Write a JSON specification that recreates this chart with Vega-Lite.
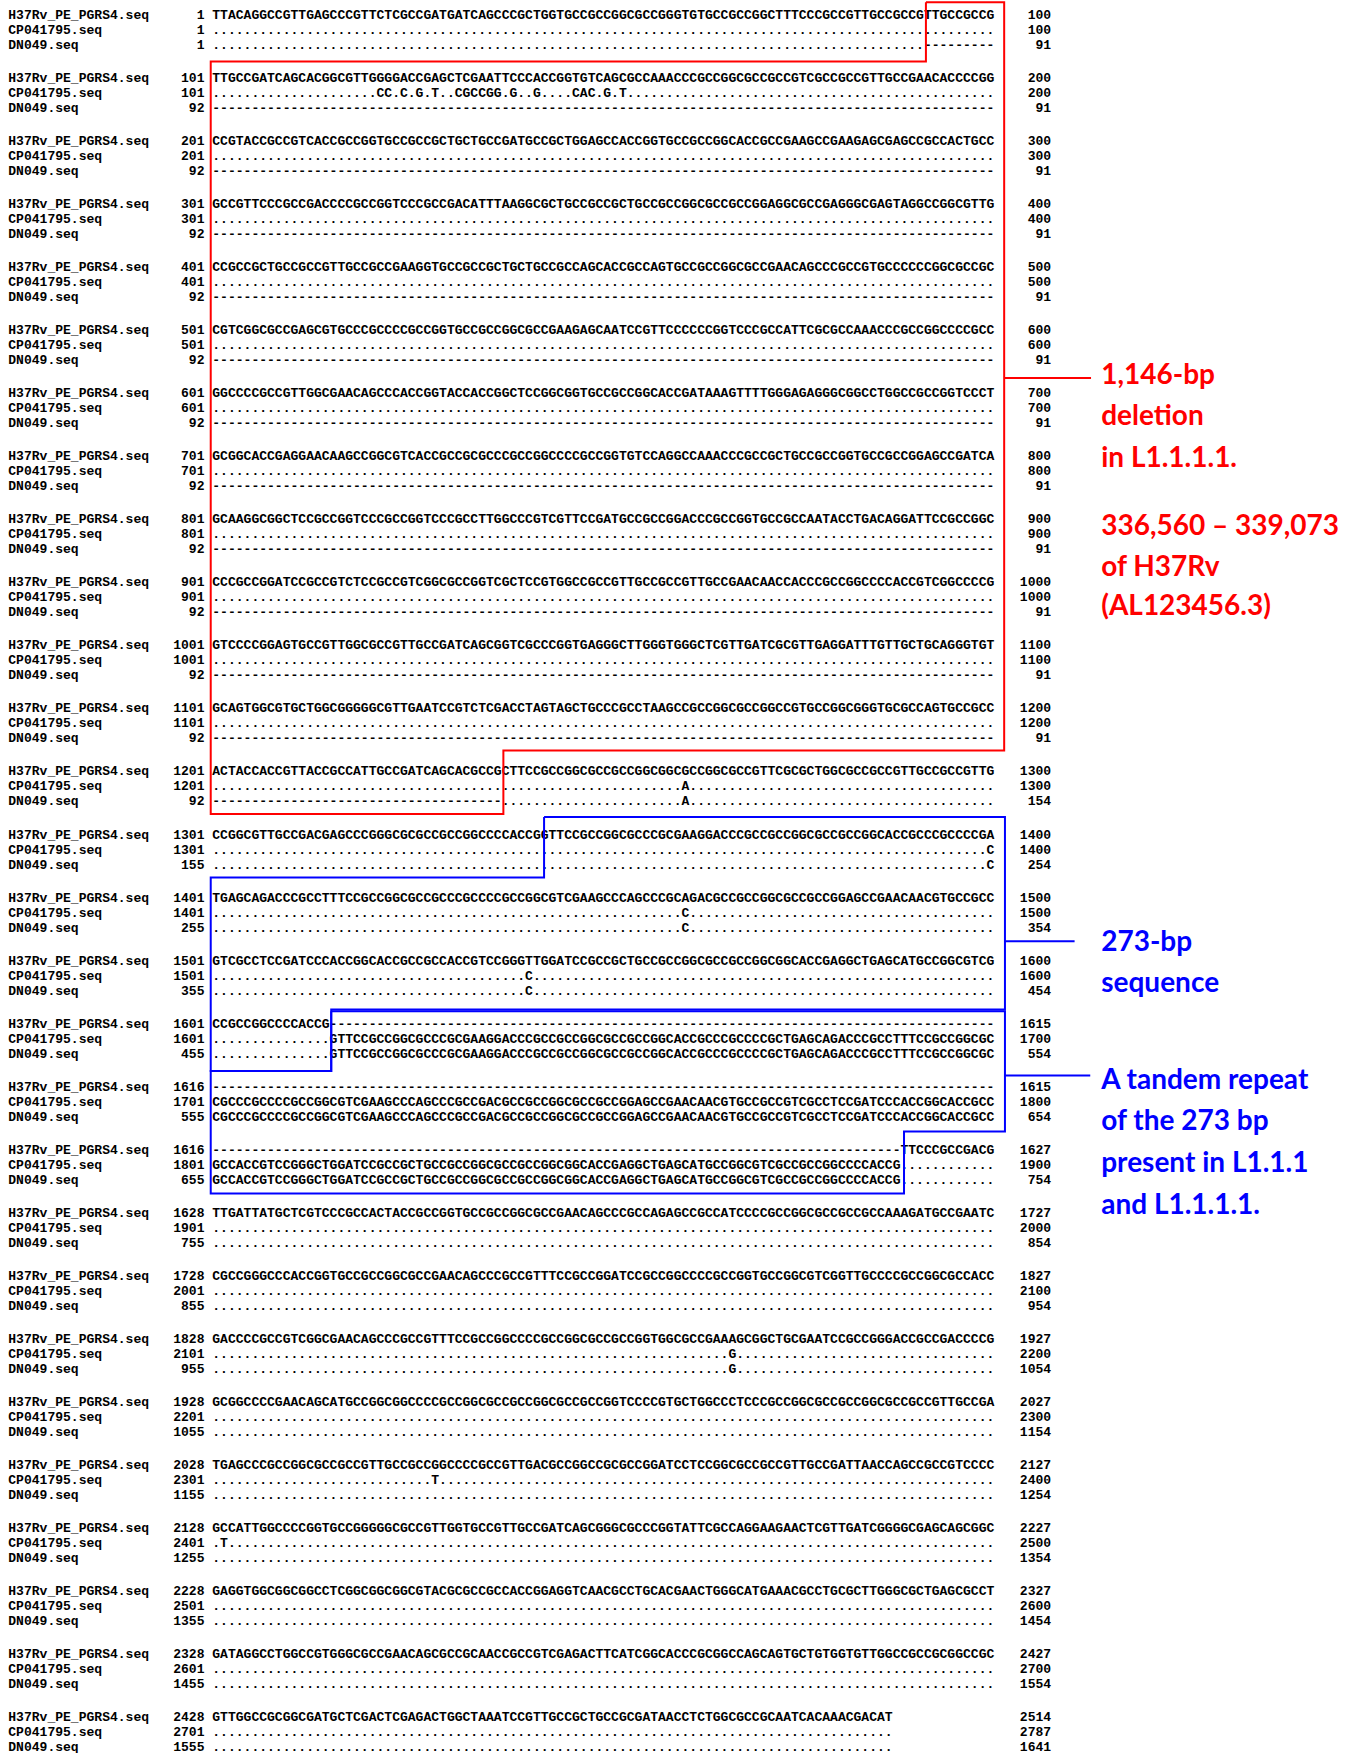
{
  "$schema": "https://vega.github.io/schema/vega-lite/v6.json",
  "width": 1357,
  "height": 1753,
  "autosize": "none",
  "padding": 0,
  "background": "white",
  "config": {"view": {"stroke": null}},
  "datasets": {
    "lines": [
      {"b": 0, "n": "H37Rv_PE_PGRS4.seq", "s": 1, "e": 100, "q": "TTACAGGCCGTTGAGCCCGTTCTCGCCGATGATCAGCCCGCTGGTGCCGCCGGCGCCGGGTGTGCCGCCGGCTTTCCCGCCGTTGCCGCCGTTGCCGCCG"},
      {"b": 0, "n": "CP041795.seq", "s": 1, "e": 100, "q": "...................................................................................................."},
      {"b": 0, "n": "DN049.seq", "s": 1, "e": 91, "q": "...........................................................................................---------"},
      {"b": 1, "n": "H37Rv_PE_PGRS4.seq", "s": 101, "e": 200, "q": "TTGCCGATCAGCACGGCGTTGGGGACCGAGCTCGAATTCCCACCGGTGTCAGCGCCAAACCCGCCGGCGCCGCCGTCGCCGCCGTTGCCGAACACCCCGG"},
      {"b": 1, "n": "CP041795.seq", "s": 101, "e": 200, "q": ".....................CC.C.G.T..CGCCGG.G..G....CAC.G.T..............................................."},
      {"b": 1, "n": "DN049.seq", "s": 92, "e": 91, "q": "----------------------------------------------------------------------------------------------------"},
      {"b": 2, "n": "H37Rv_PE_PGRS4.seq", "s": 201, "e": 300, "q": "CCGTACCGCCGTCACCGCCGGTGCCGCCGCTGCTGCCGATGCCGCTGGAGCCACCGGTGCCGCCGGCACCGCCGAAGCCGAAGAGCGAGCCGCCACTGCC"},
      {"b": 2, "n": "CP041795.seq", "s": 201, "e": 300, "q": "...................................................................................................."},
      {"b": 2, "n": "DN049.seq", "s": 92, "e": 91, "q": "----------------------------------------------------------------------------------------------------"},
      {"b": 3, "n": "H37Rv_PE_PGRS4.seq", "s": 301, "e": 400, "q": "GCCGTTCCCGCCGACCCCGCCGGTCCCGCCGACATTTAAGGCGCTGCCGCCGCTGCCGCCGGCGCCGCCGGAGGCGCCGAGGGCGAGTAGGCCGGCGTTG"},
      {"b": 3, "n": "CP041795.seq", "s": 301, "e": 400, "q": "...................................................................................................."},
      {"b": 3, "n": "DN049.seq", "s": 92, "e": 91, "q": "----------------------------------------------------------------------------------------------------"},
      {"b": 4, "n": "H37Rv_PE_PGRS4.seq", "s": 401, "e": 500, "q": "CCGCCGCTGCCGCCGTTGCCGCCGAAGGTGCCGCCGCTGCTGCCGCCAGCACCGCCAGTGCCGCCGGCGCCGAACAGCCCGCCGTGCCCCCCGGCGCCGC"},
      {"b": 4, "n": "CP041795.seq", "s": 401, "e": 500, "q": "...................................................................................................."},
      {"b": 4, "n": "DN049.seq", "s": 92, "e": 91, "q": "----------------------------------------------------------------------------------------------------"},
      {"b": 5, "n": "H37Rv_PE_PGRS4.seq", "s": 501, "e": 600, "q": "CGTCGGCGCCGAGCGTGCCCGCCCCGCCGGTGCCGCCGGCGCCGAAGAGCAATCCGTTCCCCCCGGTCCCGCCATTCGCGCCAAACCCGCCGGCCCCGCC"},
      {"b": 5, "n": "CP041795.seq", "s": 501, "e": 600, "q": "...................................................................................................."},
      {"b": 5, "n": "DN049.seq", "s": 92, "e": 91, "q": "----------------------------------------------------------------------------------------------------"},
      {"b": 6, "n": "H37Rv_PE_PGRS4.seq", "s": 601, "e": 700, "q": "GGCCCCGCCGTTGGCGAACAGCCCACCGGTACCACCGGCTCCGGCGGTGCCGCCGGCACCGATAAAGTTTTGGGAGAGGGCGGCCTGGCCGCCGGTCCCT"},
      {"b": 6, "n": "CP041795.seq", "s": 601, "e": 700, "q": "...................................................................................................."},
      {"b": 6, "n": "DN049.seq", "s": 92, "e": 91, "q": "----------------------------------------------------------------------------------------------------"},
      {"b": 7, "n": "H37Rv_PE_PGRS4.seq", "s": 701, "e": 800, "q": "GCGGCACCGAGGAACAAGCCGGCGTCACCGCCGCGCCCGCCGGCCCCGCCGGTGTCCAGGCCAAACCCGCCGCTGCCGCCGGTGCCGCCGGAGCCGATCA"},
      {"b": 7, "n": "CP041795.seq", "s": 701, "e": 800, "q": "...................................................................................................."},
      {"b": 7, "n": "DN049.seq", "s": 92, "e": 91, "q": "----------------------------------------------------------------------------------------------------"},
      {"b": 8, "n": "H37Rv_PE_PGRS4.seq", "s": 801, "e": 900, "q": "GCAAGGCGGCTCCGCCGGTCCCGCCGGTCCCGCCTTGGCCCGTCGTTCCGATGCCGCCGGACCCGCCGGTGCCGCCAATACCTGACAGGATTCCGCCGGC"},
      {"b": 8, "n": "CP041795.seq", "s": 801, "e": 900, "q": "...................................................................................................."},
      {"b": 8, "n": "DN049.seq", "s": 92, "e": 91, "q": "----------------------------------------------------------------------------------------------------"},
      {"b": 9, "n": "H37Rv_PE_PGRS4.seq", "s": 901, "e": 1000, "q": "CCCGCCGGATCCGCCGTCTCCGCCGTCGGCGCCGGTCGCTCCGTGGCCGCCGTTGCCGCCGTTGCCGAACAACCACCCGCCGGCCCCACCGTCGGCCCCG"},
      {"b": 9, "n": "CP041795.seq", "s": 901, "e": 1000, "q": "...................................................................................................."},
      {"b": 9, "n": "DN049.seq", "s": 92, "e": 91, "q": "----------------------------------------------------------------------------------------------------"},
      {"b": 10, "n": "H37Rv_PE_PGRS4.seq", "s": 1001, "e": 1100, "q": "GTCCCCGGAGTGCCGTTGGCGCCGTTGCCGATCAGCGGTCGCCCGGTGAGGGCTTGGGTGGGCTCGTTGATCGCGTTGAGGATTTGTTGCTGCAGGGTGT"},
      {"b": 10, "n": "CP041795.seq", "s": 1001, "e": 1100, "q": "...................................................................................................."},
      {"b": 10, "n": "DN049.seq", "s": 92, "e": 91, "q": "----------------------------------------------------------------------------------------------------"},
      {"b": 11, "n": "H37Rv_PE_PGRS4.seq", "s": 1101, "e": 1200, "q": "GCAGTGGCGTGCTGGCGGGGGCGTTGAATCCGTCTCGACCTAGTAGCTGCCCGCCTAAGCCGCCGGCGCCGGCCGTGCCGGCGGGTGCGCCAGTGCCGCC"},
      {"b": 11, "n": "CP041795.seq", "s": 1101, "e": 1200, "q": "...................................................................................................."},
      {"b": 11, "n": "DN049.seq", "s": 92, "e": 91, "q": "----------------------------------------------------------------------------------------------------"},
      {"b": 12, "n": "H37Rv_PE_PGRS4.seq", "s": 1201, "e": 1300, "q": "ACTACCACCGTTACCGCCATTGCCGATCAGCACGCCGCTTCCGCCGGCGCCGCCGGCGGCGCCGGCGCCGTTCGCGCTGGCGCCGCCGTTGCCGCCGTTG"},
      {"b": 12, "n": "CP041795.seq", "s": 1201, "e": 1300, "q": "............................................................A......................................."},
      {"b": 12, "n": "DN049.seq", "s": 92, "e": 154, "q": "-------------------------------------.......................A......................................."},
      {"b": 13, "n": "H37Rv_PE_PGRS4.seq", "s": 1301, "e": 1400, "q": "CCGGCGTTGCCGACGAGCCCGGGCGCGCCGCCGGCCCCACCGGTTCCGCCGGCGCCCGCGAAGGACCCGCCGCCGGCGCCGCCGGCACCGCCCGCCCCGA"},
      {"b": 13, "n": "CP041795.seq", "s": 1301, "e": 1400, "q": "...................................................................................................C"},
      {"b": 13, "n": "DN049.seq", "s": 155, "e": 254, "q": "...................................................................................................C"},
      {"b": 14, "n": "H37Rv_PE_PGRS4.seq", "s": 1401, "e": 1500, "q": "TGAGCAGACCCGCCTTTCCGCCGGCGCCGCCCGCCCCGCCGGCGTCGAAGCCCAGCCCGCAGACGCCGCCGGCGCCGCCGGAGCCGAACAACGTGCCGCC"},
      {"b": 14, "n": "CP041795.seq", "s": 1401, "e": 1500, "q": "............................................................C......................................."},
      {"b": 14, "n": "DN049.seq", "s": 255, "e": 354, "q": "............................................................C......................................."},
      {"b": 15, "n": "H37Rv_PE_PGRS4.seq", "s": 1501, "e": 1600, "q": "GTCGCCTCCGATCCCACCGGCACCGCCGCCACCGTCCGGGTTGGATCCGCCGCTGCCGCCGGCGCCGCCGGCGGCACCGAGGCTGAGCATGCCGGCGTCG"},
      {"b": 15, "n": "CP041795.seq", "s": 1501, "e": 1600, "q": "........................................C..........................................................."},
      {"b": 15, "n": "DN049.seq", "s": 355, "e": 454, "q": "........................................C..........................................................."},
      {"b": 16, "n": "H37Rv_PE_PGRS4.seq", "s": 1601, "e": 1615, "q": "CCGCCGGCCCCACCG-------------------------------------------------------------------------------------"},
      {"b": 16, "n": "CP041795.seq", "s": 1601, "e": 1700, "q": "...............GTTCCGCCGGCGCCCGCGAAGGACCCGCCGCCGGCGCCGCCGGCACCGCCCGCCCCGCTGAGCAGACCCGCCTTTCCGCCGGCGC"},
      {"b": 16, "n": "DN049.seq", "s": 455, "e": 554, "q": "...............GTTCCGCCGGCGCCCGCGAAGGACCCGCCGCCGGCGCCGCCGGCACCGCCCGCCCCGCTGAGCAGACCCGCCTTTCCGCCGGCGC"},
      {"b": 17, "n": "H37Rv_PE_PGRS4.seq", "s": 1616, "e": 1615, "q": "----------------------------------------------------------------------------------------------------"},
      {"b": 17, "n": "CP041795.seq", "s": 1701, "e": 1800, "q": "CGCCCGCCCCGCCGGCGTCGAAGCCCAGCCCGCCGACGCCGCCGGCGCCGCCGGAGCCGAACAACGTGCCGCCGTCGCCTCCGATCCCACCGGCACCGCC"},
      {"b": 17, "n": "DN049.seq", "s": 555, "e": 654, "q": "CGCCCGCCCCGCCGGCGTCGAAGCCCAGCCCGCCGACGCCGCCGGCGCCGCCGGAGCCGAACAACGTGCCGCCGTCGCCTCCGATCCCACCGGCACCGCC"},
      {"b": 18, "n": "H37Rv_PE_PGRS4.seq", "s": 1616, "e": 1627, "q": "----------------------------------------------------------------------------------------TTCCCGCCGACG"},
      {"b": 18, "n": "CP041795.seq", "s": 1801, "e": 1900, "q": "GCCACCGTCCGGGCTGGATCCGCCGCTGCCGCCGGCGCCGCCGGCGGCACCGAGGCTGAGCATGCCGGCGTCGCCGCCGGCCCCACCG............"},
      {"b": 18, "n": "DN049.seq", "s": 655, "e": 754, "q": "GCCACCGTCCGGGCTGGATCCGCCGCTGCCGCCGGCGCCGCCGGCGGCACCGAGGCTGAGCATGCCGGCGTCGCCGCCGGCCCCACCG............"},
      {"b": 19, "n": "H37Rv_PE_PGRS4.seq", "s": 1628, "e": 1727, "q": "TTGATTATGCTCGTCCCGCCACTACCGCCGGTGCCGCCGGCGCCGAACAGCCCGCCAGAGCCGCCATCCCCGCCGGCGCCGCCGCCAAAGATGCCGAATC"},
      {"b": 19, "n": "CP041795.seq", "s": 1901, "e": 2000, "q": "...................................................................................................."},
      {"b": 19, "n": "DN049.seq", "s": 755, "e": 854, "q": "...................................................................................................."},
      {"b": 20, "n": "H37Rv_PE_PGRS4.seq", "s": 1728, "e": 1827, "q": "CGCCGGGCCCACCGGTGCCGCCGGCGCCGAACAGCCCGCCGTTTCCGCCGGATCCGCCGGCCCCGCCGGTGCCGGCGTCGGTTGCCCCGCCGGCGCCACC"},
      {"b": 20, "n": "CP041795.seq", "s": 2001, "e": 2100, "q": "...................................................................................................."},
      {"b": 20, "n": "DN049.seq", "s": 855, "e": 954, "q": "...................................................................................................."},
      {"b": 21, "n": "H37Rv_PE_PGRS4.seq", "s": 1828, "e": 1927, "q": "GACCCCGCCGTCGGCGAACAGCCCGCCGTTTCCGCCGGCCCCGCCGGCGCCGCCGGTGGCGCCGAAAGCGGCTGCGAATCCGCCGGGACCGCCGACCCCG"},
      {"b": 21, "n": "CP041795.seq", "s": 2101, "e": 2200, "q": "..................................................................G................................."},
      {"b": 21, "n": "DN049.seq", "s": 955, "e": 1054, "q": "..................................................................G................................."},
      {"b": 22, "n": "H37Rv_PE_PGRS4.seq", "s": 1928, "e": 2027, "q": "GCGGCCCCGAACAGCATGCCGGCGGCCCCGCCGGCGCCGCCGGCGCCGCCGGTCCCCGTGCTGGCCCTCCCGCCGGCGCCGCCGGCGCCGCCGTTGCCGA"},
      {"b": 22, "n": "CP041795.seq", "s": 2201, "e": 2300, "q": "...................................................................................................."},
      {"b": 22, "n": "DN049.seq", "s": 1055, "e": 1154, "q": "...................................................................................................."},
      {"b": 23, "n": "H37Rv_PE_PGRS4.seq", "s": 2028, "e": 2127, "q": "TGAGCCCGCCGGCGCCGCCGTTGCCGCCGGCCCCGCCGTTGACGCCGGCCGCGCCGGATCCTCCGGCGCCGCCGTTGCCGATTAACCAGCCGCCGTCCCC"},
      {"b": 23, "n": "CP041795.seq", "s": 2301, "e": 2400, "q": "............................T......................................................................."},
      {"b": 23, "n": "DN049.seq", "s": 1155, "e": 1254, "q": "...................................................................................................."},
      {"b": 24, "n": "H37Rv_PE_PGRS4.seq", "s": 2128, "e": 2227, "q": "GCCATTGGCCCCGGTGCCGGGGGCGCCGTTGGTGCCGTTGCCGATCAGCGGGCGCCCGGTATTCGCCAGGAAGAACTCGTTGATCGGGGCGAGCAGCGGC"},
      {"b": 24, "n": "CP041795.seq", "s": 2401, "e": 2500, "q": ".T.................................................................................................."},
      {"b": 24, "n": "DN049.seq", "s": 1255, "e": 1354, "q": "...................................................................................................."},
      {"b": 25, "n": "H37Rv_PE_PGRS4.seq", "s": 2228, "e": 2327, "q": "GAGGTGGCGGCGGCCTCGGCGGCGGCGTACGCGCCGCCACCGGAGGTCAACGCCTGCACGAACTGGGCATGAAACGCCTGCGCTTGGGCGCTGAGCGCCT"},
      {"b": 25, "n": "CP041795.seq", "s": 2501, "e": 2600, "q": "...................................................................................................."},
      {"b": 25, "n": "DN049.seq", "s": 1355, "e": 1454, "q": "...................................................................................................."},
      {"b": 26, "n": "H37Rv_PE_PGRS4.seq", "s": 2328, "e": 2427, "q": "GATAGGCCTGGCCGTGGGCGCCGAACAGCGCCGCAACCGCCGTCGAGACTTCATCGGCACCCGCGGCCAGCAGTGCTGTGGTGTTGGCCGCCGCGGCCGC"},
      {"b": 26, "n": "CP041795.seq", "s": 2601, "e": 2700, "q": "...................................................................................................."},
      {"b": 26, "n": "DN049.seq", "s": 1455, "e": 1554, "q": "...................................................................................................."},
      {"b": 27, "n": "H37Rv_PE_PGRS4.seq", "s": 2428, "e": 2514, "q": "GTTGGCCGCGGCGATGCTCGACTCGAGACTGGCTAAATCCGTTGCCGCTGCCGCGATAACCTCTGGCGCCGCAATCACAAACGACAT"},
      {"b": 27, "n": "CP041795.seq", "s": 2701, "e": 2787, "q": "......................................................................................."},
      {"b": 27, "n": "DN049.seq", "s": 1555, "e": 1641, "q": "......................................................................................."}
    ],
    "boxes": [
      {"box": "del", "grp": "deletion", "i": 0, "x": 91.2, "y": -0.44},
      {"box": "del", "grp": "deletion", "i": 1, "x": 101.2, "y": -0.44},
      {"box": "del", "grp": "deletion", "i": 2, "x": 101.2, "y": 11.429},
      {"box": "del", "grp": "deletion", "i": 3, "x": 37.2, "y": 11.429},
      {"box": "del", "grp": "deletion", "i": 4, "x": 37.2, "y": 12.435},
      {"box": "del", "grp": "deletion", "i": 5, "x": -0.2, "y": 12.435},
      {"box": "del", "grp": "deletion", "i": 6, "x": -0.2, "y": 0.5},
      {"box": "del", "grp": "deletion", "i": 7, "x": 91.2, "y": 0.5},
      {"box": "del", "grp": "deletion", "i": 8, "x": 91.2, "y": -0.44},
      {"box": "seq273", "grp": "repeat", "i": 0, "x": 42.4, "y": 12.486},
      {"box": "seq273", "grp": "repeat", "i": 1, "x": 101.3, "y": 12.486},
      {"box": "seq273", "grp": "repeat", "i": 2, "x": 101.3, "y": 15.536},
      {"box": "seq273", "grp": "repeat", "i": 3, "x": 15.2, "y": 15.536},
      {"box": "seq273", "grp": "repeat", "i": 4, "x": 15.2, "y": 16.513},
      {"box": "seq273", "grp": "repeat", "i": 5, "x": -0.2, "y": 16.513},
      {"box": "seq273", "grp": "repeat", "i": 6, "x": -0.2, "y": 13.442},
      {"box": "seq273", "grp": "repeat", "i": 7, "x": 42.4, "y": 13.442},
      {"box": "seq273", "grp": "repeat", "i": 8, "x": 42.4, "y": 12.486},
      {"box": "tandem", "grp": "repeat", "i": 0, "x": 15.2, "y": 15.566},
      {"box": "tandem", "grp": "repeat", "i": 1, "x": 101.3, "y": 15.566},
      {"box": "tandem", "grp": "repeat", "i": 2, "x": 101.3, "y": 17.472},
      {"box": "tandem", "grp": "repeat", "i": 3, "x": 88.4, "y": 17.472},
      {"box": "tandem", "grp": "repeat", "i": 4, "x": 88.4, "y": 18.458},
      {"box": "tandem", "grp": "repeat", "i": 5, "x": -0.2, "y": 18.458},
      {"box": "tandem", "grp": "repeat", "i": 6, "x": -0.2, "y": 16.513},
      {"box": "tandem", "grp": "repeat", "i": 7, "x": 15.2, "y": 16.513},
      {"box": "tandem", "grp": "repeat", "i": 8, "x": 15.2, "y": 15.566}
    ],
    "leaders": [
      {"grp": "deletion", "x": 101.2, "x2": 112.3, "y": 5.52},
      {"grp": "repeat", "x": 101.3, "x2": 110.2, "y": 14.456},
      {"grp": "repeat", "x": 101.3, "x2": 112.2, "y": 16.583}
    ],
    "notes": [
      {"grp": "deletion", "x": 113.6, "y": 5.616, "t": "1,146-bp"},
      {"grp": "deletion", "x": 113.6, "y": 6.266, "t": "deletion"},
      {"grp": "deletion", "x": 113.6, "y": 6.94, "t": "in L1.1.1.1."},
      {"grp": "deletion", "x": 113.6, "y": 8.011, "t": "336,560 – 339,073"},
      {"grp": "deletion", "x": 113.6, "y": 8.661, "t": "of H37Rv"},
      {"grp": "deletion", "x": 113.6, "y": 9.28, "t": "(AL123456.3)"},
      {"grp": "repeat", "x": 113.6, "y": 14.602, "t": "273-bp"},
      {"grp": "repeat", "x": 113.6, "y": 15.26, "t": "sequence"},
      {"grp": "repeat", "x": 113.6, "y": 16.799, "t": "A tandem repeat"},
      {"grp": "repeat", "x": 113.6, "y": 17.449, "t": "of the 273 bp"},
      {"grp": "repeat", "x": 113.6, "y": 18.115, "t": "present in L1.1.1"},
      {"grp": "repeat", "x": 113.6, "y": 18.782, "t": "and L1.1.1.1."}
    ]
  },
  "layer": [
    {
      "data": {"name": "lines"},
      "transform": [{"filter": "datum.n === 'H37Rv_PE_PGRS4.seq'"}],
      "mark": {"type": "text", "font": "Liberation Mono", "fontWeight": "bold", "fontSize": 13.04, "align": "left", "baseline": "middle", "dy": -15, "color": "#000000"},
      "encoding": {
        "x": {"datum": -26.07, "type": "quantitative", "scale": {"domain": [-27.13, 146.29], "nice": false, "zero": false}, "axis": null},
        "y": {"field": "b", "type": "quantitative", "scale": {"domain": [-0.4759, 27.332], "reverse": true, "nice": false, "zero": false}, "axis": null},
        "text": {"field": "n"}
      }
    },
    {
      "data": {"name": "lines"},
      "transform": [{"filter": "datum.n === 'H37Rv_PE_PGRS4.seq'"}],
      "mark": {"type": "text", "font": "Liberation Mono", "fontWeight": "bold", "fontSize": 13.04, "align": "right", "baseline": "middle", "dy": -15, "color": "#000000"},
      "encoding": {
        "x": {"datum": -1, "type": "quantitative", "scale": {"domain": [-27.13, 146.29], "nice": false, "zero": false}, "axis": null},
        "y": {"field": "b", "type": "quantitative", "scale": {"domain": [-0.4759, 27.332], "reverse": true, "nice": false, "zero": false}, "axis": null},
        "text": {"field": "s"}
      }
    },
    {
      "data": {"name": "lines"},
      "transform": [{"filter": "datum.n === 'H37Rv_PE_PGRS4.seq'"}],
      "mark": {"type": "text", "font": "Liberation Mono", "fontWeight": "bold", "fontSize": 13.04, "align": "left", "baseline": "middle", "dy": -15, "color": "#000000"},
      "encoding": {
        "x": {"datum": 0, "type": "quantitative", "scale": {"domain": [-27.13, 146.29], "nice": false, "zero": false}, "axis": null},
        "y": {"field": "b", "type": "quantitative", "scale": {"domain": [-0.4759, 27.332], "reverse": true, "nice": false, "zero": false}, "axis": null},
        "text": {"field": "q"}
      }
    },
    {
      "data": {"name": "lines"},
      "transform": [{"filter": "datum.n === 'H37Rv_PE_PGRS4.seq'"}],
      "mark": {"type": "text", "font": "Liberation Mono", "fontWeight": "bold", "fontSize": 13.04, "align": "right", "baseline": "middle", "dy": -15, "color": "#000000"},
      "encoding": {
        "x": {"datum": 107.2, "type": "quantitative", "scale": {"domain": [-27.13, 146.29], "nice": false, "zero": false}, "axis": null},
        "y": {"field": "b", "type": "quantitative", "scale": {"domain": [-0.4759, 27.332], "reverse": true, "nice": false, "zero": false}, "axis": null},
        "text": {"field": "e"}
      }
    },
    {
      "data": {"name": "lines"},
      "transform": [{"filter": "datum.n === 'CP041795.seq'"}],
      "mark": {"type": "text", "font": "Liberation Mono", "fontWeight": "bold", "fontSize": 13.04, "align": "left", "baseline": "middle", "dy": 0, "color": "#000000"},
      "encoding": {
        "x": {"datum": -26.07, "type": "quantitative", "scale": {"domain": [-27.13, 146.29], "nice": false, "zero": false}, "axis": null},
        "y": {"field": "b", "type": "quantitative", "scale": {"domain": [-0.4759, 27.332], "reverse": true, "nice": false, "zero": false}, "axis": null},
        "text": {"field": "n"}
      }
    },
    {
      "data": {"name": "lines"},
      "transform": [{"filter": "datum.n === 'CP041795.seq'"}],
      "mark": {"type": "text", "font": "Liberation Mono", "fontWeight": "bold", "fontSize": 13.04, "align": "right", "baseline": "middle", "dy": 0, "color": "#000000"},
      "encoding": {
        "x": {"datum": -1, "type": "quantitative", "scale": {"domain": [-27.13, 146.29], "nice": false, "zero": false}, "axis": null},
        "y": {"field": "b", "type": "quantitative", "scale": {"domain": [-0.4759, 27.332], "reverse": true, "nice": false, "zero": false}, "axis": null},
        "text": {"field": "s"}
      }
    },
    {
      "data": {"name": "lines"},
      "transform": [{"filter": "datum.n === 'CP041795.seq'"}],
      "mark": {"type": "text", "font": "Liberation Mono", "fontWeight": "bold", "fontSize": 13.04, "align": "left", "baseline": "middle", "dy": 0, "color": "#000000"},
      "encoding": {
        "x": {"datum": 0, "type": "quantitative", "scale": {"domain": [-27.13, 146.29], "nice": false, "zero": false}, "axis": null},
        "y": {"field": "b", "type": "quantitative", "scale": {"domain": [-0.4759, 27.332], "reverse": true, "nice": false, "zero": false}, "axis": null},
        "text": {"field": "q"}
      }
    },
    {
      "data": {"name": "lines"},
      "transform": [{"filter": "datum.n === 'CP041795.seq'"}],
      "mark": {"type": "text", "font": "Liberation Mono", "fontWeight": "bold", "fontSize": 13.04, "align": "right", "baseline": "middle", "dy": 0, "color": "#000000"},
      "encoding": {
        "x": {"datum": 107.2, "type": "quantitative", "scale": {"domain": [-27.13, 146.29], "nice": false, "zero": false}, "axis": null},
        "y": {"field": "b", "type": "quantitative", "scale": {"domain": [-0.4759, 27.332], "reverse": true, "nice": false, "zero": false}, "axis": null},
        "text": {"field": "e"}
      }
    },
    {
      "data": {"name": "lines"},
      "transform": [{"filter": "datum.n === 'DN049.seq'"}],
      "mark": {"type": "text", "font": "Liberation Mono", "fontWeight": "bold", "fontSize": 13.04, "align": "left", "baseline": "middle", "dy": 15, "color": "#000000"},
      "encoding": {
        "x": {"datum": -26.07, "type": "quantitative", "scale": {"domain": [-27.13, 146.29], "nice": false, "zero": false}, "axis": null},
        "y": {"field": "b", "type": "quantitative", "scale": {"domain": [-0.4759, 27.332], "reverse": true, "nice": false, "zero": false}, "axis": null},
        "text": {"field": "n"}
      }
    },
    {
      "data": {"name": "lines"},
      "transform": [{"filter": "datum.n === 'DN049.seq'"}],
      "mark": {"type": "text", "font": "Liberation Mono", "fontWeight": "bold", "fontSize": 13.04, "align": "right", "baseline": "middle", "dy": 15, "color": "#000000"},
      "encoding": {
        "x": {"datum": -1, "type": "quantitative", "scale": {"domain": [-27.13, 146.29], "nice": false, "zero": false}, "axis": null},
        "y": {"field": "b", "type": "quantitative", "scale": {"domain": [-0.4759, 27.332], "reverse": true, "nice": false, "zero": false}, "axis": null},
        "text": {"field": "s"}
      }
    },
    {
      "data": {"name": "lines"},
      "transform": [{"filter": "datum.n === 'DN049.seq'"}],
      "mark": {"type": "text", "font": "Liberation Mono", "fontWeight": "bold", "fontSize": 13.04, "align": "left", "baseline": "middle", "dy": 15, "color": "#000000"},
      "encoding": {
        "x": {"datum": 0, "type": "quantitative", "scale": {"domain": [-27.13, 146.29], "nice": false, "zero": false}, "axis": null},
        "y": {"field": "b", "type": "quantitative", "scale": {"domain": [-0.4759, 27.332], "reverse": true, "nice": false, "zero": false}, "axis": null},
        "text": {"field": "q"}
      }
    },
    {
      "data": {"name": "lines"},
      "transform": [{"filter": "datum.n === 'DN049.seq'"}],
      "mark": {"type": "text", "font": "Liberation Mono", "fontWeight": "bold", "fontSize": 13.04, "align": "right", "baseline": "middle", "dy": 15, "color": "#000000"},
      "encoding": {
        "x": {"datum": 107.2, "type": "quantitative", "scale": {"domain": [-27.13, 146.29], "nice": false, "zero": false}, "axis": null},
        "y": {"field": "b", "type": "quantitative", "scale": {"domain": [-0.4759, 27.332], "reverse": true, "nice": false, "zero": false}, "axis": null},
        "text": {"field": "e"}
      }
    },
    {
      "data": {"name": "boxes"},
      "mark": {"type": "line", "strokeWidth": 2, "interpolate": "linear", "strokeJoin": "miter"},
      "encoding": {
        "x": {"field": "x", "type": "quantitative", "scale": {"domain": [-27.13, 146.29], "nice": false, "zero": false}, "axis": null},
        "y": {"field": "y", "type": "quantitative", "scale": {"domain": [-0.4759, 27.332], "reverse": true, "nice": false, "zero": false}, "axis": null},
        "order": {"field": "i", "type": "quantitative"},
        "detail": {"field": "box", "type": "nominal"},
        "color": {"field": "grp", "type": "nominal", "scale": {"domain": ["deletion", "repeat"], "range": ["#ff0000", "#0000ff"]}, "legend": null}
      }
    },
    {
      "data": {"name": "leaders"},
      "mark": {"type": "rule", "strokeWidth": 2},
      "encoding": {
        "x": {"field": "x", "type": "quantitative", "scale": {"domain": [-27.13, 146.29], "nice": false, "zero": false}, "axis": null},
        "x2": {"field": "x2"},
        "y": {"field": "y", "type": "quantitative", "scale": {"domain": [-0.4759, 27.332], "reverse": true, "nice": false, "zero": false}, "axis": null},
        "color": {"field": "grp", "type": "nominal", "scale": {"domain": ["deletion", "repeat"], "range": ["#ff0000", "#0000ff"]}, "legend": null}
      }
    },
    {
      "data": {"name": "notes"},
      "mark": {"type": "text", "font": "Lato", "fontWeight": "bold", "fontSize": 28, "align": "left", "baseline": "alphabetic"},
      "encoding": {
        "x": {"field": "x", "type": "quantitative", "scale": {"domain": [-27.13, 146.29], "nice": false, "zero": false}, "axis": null},
        "y": {"field": "y", "type": "quantitative", "scale": {"domain": [-0.4759, 27.332], "reverse": true, "nice": false, "zero": false}, "axis": null},
        "text": {"field": "t"},
        "color": {"field": "grp", "type": "nominal", "scale": {"domain": ["deletion", "repeat"], "range": ["#ff0000", "#0000ff"]}, "legend": null}
      }
    }
  ]
}
